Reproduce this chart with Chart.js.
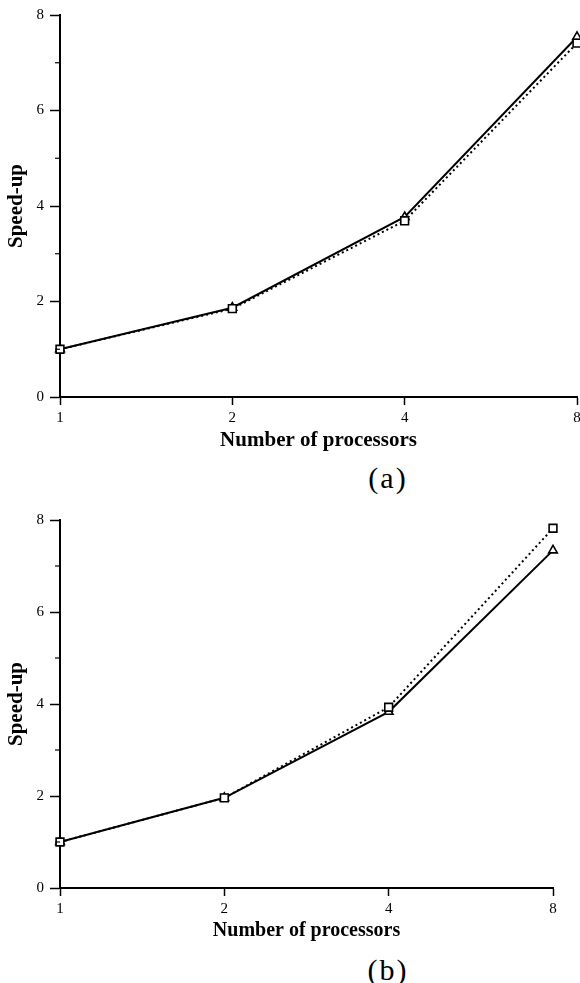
<!DOCTYPE html>
<html>
<head>
<meta charset="utf-8">
<script src="https://cdn.jsdelivr.net/npm/chart.js@4.4.0/dist/chart.umd.min.js"></script>
<style>
  body { margin: 0; background: #fff; }
  #wrap { position: relative; width: 580px; height: 983px; }
  canvas { position: absolute; left: 0; }
  .cap { position: absolute; left: 338px; width: 100px; text-align: center;
         font-family: "Liberation Serif", serif; font-size: 30px; line-height: 30px;
         letter-spacing: 2px; color: #000; }
</style>
</head>
<body>
<div id="wrap">
  <canvas id="chartA" width="580" height="460" style="top:0px"></canvas>
  <div class="cap" style="top:463px">(a)</div>
  <canvas id="chartB" width="580" height="460" style="top:490px"></canvas>
  <div class="cap" style="top:955px">(b)</div>
</div>
<script>
// processors (log2 spaced on the axis)
let processori = ["1", "2", "4", "8"];

// chart (a)
let aSolida = [1, 1.87, 3.77, 7.54];    // triangles, solid line
let aPunteggiata = [1, 1.85, 3.69, 7.41]; // squares, dotted line

// chart (b)
let bSolida = [1, 1.96, 3.83, 7.34];
let bPunteggiata = [1, 1.96, 3.93, 7.82];

let yTicks = [0, 2, 4, 6, 8];

// short outward ticks at odd values on the y axis
var minorTicks = {
    id: "minorTicks",
    afterDraw: function(chart) {
        var y = chart.scales.y;
        var c = chart.ctx;
        c.save();
        c.strokeStyle = "#000";
        c.lineWidth = 1.2;
        [1, 3, 5, 7].forEach(function(v) {
            var p = y.getPixelForValue(v);
            c.beginPath();
            c.moveTo(y.right - 5, p);
            c.lineTo(y.right, p);
            c.stroke();
        });
        c.restore();
    }
};

function creaGrafico(id, solida, punteggiata, pad, xHeight, titleSize) {
    var ctx = document.getElementById(id).getContext("2d");
    return new Chart(ctx, {
        type: "line",
        data: {
            labels: processori,
            datasets: [{
                data: punteggiata,
                borderColor: "#000",
                borderWidth: 2,
                borderDash: [2, 3],
                pointStyle: "rect",
                pointRadius: 5.5,
                pointBorderWidth: 1.6,
                pointBackgroundColor: "#fff",
                pointBorderColor: "#000",
                tension: 0,
            }, {
                data: solida,
                borderColor: "#000",
                borderWidth: 2,
                pointStyle: "triangle",
                pointRadius: 5,
                pointBorderWidth: 1.6,
                pointBackgroundColor: "#fff",
                pointBorderColor: "#000",
                tension: 0,
            }],
        },
        options: {
            responsive: false,
            animation: false,
            layout: { padding: pad, autoPadding: false },
            plugins: { legend: { display: false }, tooltip: { enabled: false } },
            scales: {
                x: {
                    offset: false,
                    grid: { drawOnChartArea: false, drawTicks: true, tickLength: 8, tickColor: "#000", tickWidth: 1.5 },
                    border: { display: true, color: "#000", width: 2 },
                    ticks: { color: "#000", padding: 4, font: { family: "Liberation Serif", size: 15 } },
                    title: {
                        display: true,
                        text: "Number of processors",
                        color: "#000",
                        padding: 0,
                        font: { family: "Liberation Serif", size: titleSize, weight: "bold" },
                    },
                    afterFit: function(s) {
                        s.height = xHeight;
                        s.paddingRight = 0;
                    },
                },
                y: {
                    min: 0,
                    max: 8,
                    grid: {
                        drawOnChartArea: false,
                        drawTicks: true,
                        tickLength: 10,
                        tickWidth: 1.5,
                        tickColor: function(c) {
                            return yTicks.indexOf(c.tick.value) >= 0 ? "#000" : "rgba(0,0,0,0)";
                        },
                    },
                    border: { display: true, color: "#000", width: 2 },
                    ticks: {
                        stepSize: 1,
                        color: "#000",
                        padding: 6,
                        font: { family: "Liberation Serif", size: 15 },
                        callback: function(v) { return yTicks.indexOf(v) >= 0 ? v : ""; },
                    },
                    title: {
                        display: true,
                        text: "Speed-up",
                        color: "#000",
                        padding: { top: 4, bottom: 0 },
                        font: { family: "Liberation Serif", size: 21, weight: "bold" },
                    },
                    afterFit: function(s) { s.width = 60; },
                },
            },
        },
        plugins: [minorTicks],
    });
}

creaGrafico("chartA", aSolida, aPunteggiata, { top: 15, right: 3, bottom: 7, left: 0 }, 56, 21);
creaGrafico("chartB", bSolida, bPunteggiata, { top: 30, right: 27, bottom: 7, left: 0 }, 55, 20);
</script>
</body>
</html>
